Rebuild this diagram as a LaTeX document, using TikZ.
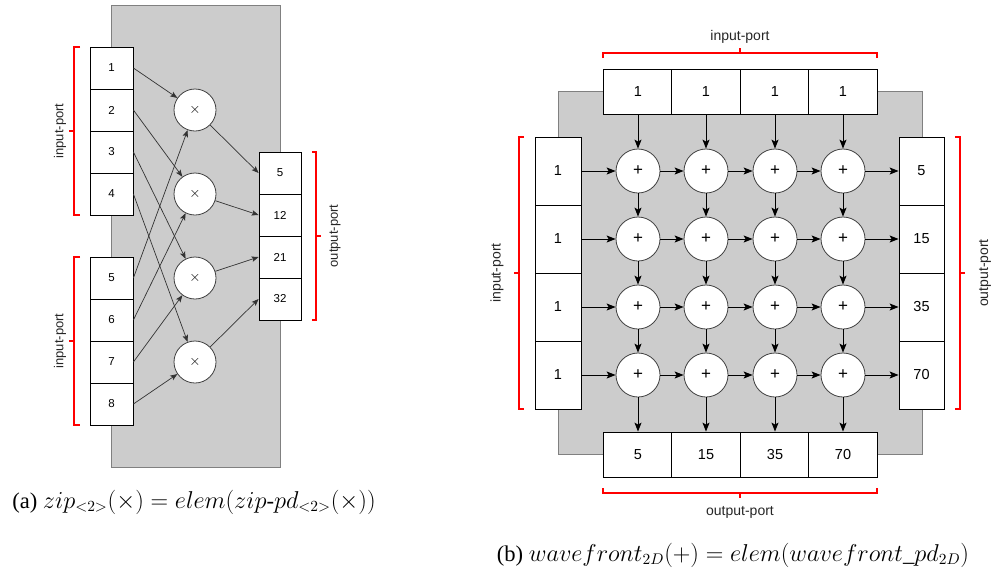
\documentclass[tikz,border=0pt]{standalone}
\usepackage{fontspec}
\setmainfont{Liberation Serif}
\newfontfamily\diafont{Liberation Sans}
\usetikzlibrary{arrows.meta}

\tikzset{
  area/.style={fill=black!20, draw=black!50, line width=0.8pt},
  cell/.style={draw, fill=white, inner sep=0pt, line width=0.8pt, font=\diafont\fontsize{11.5}{13}\selectfont},
  bigcell/.style={cell, font=\diafont\fontsize{14.5}{17}\selectfont},
  op/.style={circle, draw=black!75, fill=white, inner sep=0pt, line width=0.8pt},
  wire/.style={-{Stealth[length=7pt,width=5.5pt,inset=1.5pt]}, line width=0.7pt, black!80},
  bwire/.style={-{Stealth[length=9pt,width=7pt,inset=2pt]}, line width=1pt, black},
  port/.style={draw=red, line width=1.6pt},
  portlabel/.style={font=\diafont\fontsize{13}{15}\selectfont, text=black!85},
  caption/.style={font=\fontsize{16}{19}\selectfont},
}

\begin{document}
\begin{tikzpicture}[x=1pt, y=-1pt]
\useasboundingbox (0,0) rectangle (992,573);

% (a) zip
\draw[area] (111,5) rectangle (280,467);
\foreach \v [count=\i] in {1,2,3,4}
  \node[cell, minimum width=43pt, minimum height=42pt] (a\i) at (111.5,26+42*\i) {\v};
\foreach \v [count=\i from 5] in {5,6,7,8}
  \node[cell, minimum width=43pt, minimum height=42pt] (a\i) at (111.5,68+42*\i) {\v};
\foreach \i in {1,...,4}
  \node[op, minimum size=42pt] (m\i) at (195,26+84*\i) {\fontsize{14}{16}\selectfont$\times$};
\foreach \v [count=\i] in {5,12,21,32}
  \node[cell, minimum width=42pt, minimum height=42pt] (z\i) at (280,131+42*\i) {\v};
\foreach \i in {1,...,4} {
  \pgfmathtruncatemacro\j{\i+4}
  \draw[wire] (a\i.east) -- (m\i);
  \draw[wire] (a\j.east) -- (m\i);
  \draw[wire] (m\i) -- (z\i.west);
}
\draw[port] (80,47) -| (74,215) -- (80,215);
\draw[port] (74,131) -- (69,131);
\draw[port] (80,257) -| (74,425) -- (80,425);
\draw[port] (74,341) -- (69,341);
\draw[port] (312,152) -| (316,320) -- (312,320);
\draw[port] (316,236) -- (321,236);
\node[portlabel, rotate=90] (pa1) at (60,131) {input-port};
\node[portlabel, rotate=90] (pa2) at (60,341) {input-port};
\node[portlabel, rotate=90] (pa3) at (335,236) {output-port};
\node[caption] (capa) at (194,502)
  {\scalebox{1.41}{(a) $zip_{<2>}(\times)=elem(zip\mbox{-}pd_{<2>}(\times))$}};

% (b) wavefront
\draw[area] (558,91) rectangle (922,454);
\foreach \x [count=\i] in {638,706,775,843} {
  \node[bigcell, minimum width=68.5pt, minimum height=45pt] (t\i) at (\x,91.5) {1};
  \foreach \y [count=\j] in {171,239,307,375}
    \node[op, minimum size=44pt] (p-\j-\i) at (\x,\y) {\diafont\fontsize{17}{19}\selectfont +};
}
\foreach \y [count=\i] in {171,239,307,375}
  \node[bigcell, minimum width=46pt, minimum height=68pt] (l\i) at (558,\y) {1};
\foreach \v/\y [count=\i] in {5/171,15/239,35/307,70/375}
  \node[bigcell, minimum width=45pt, minimum height=68pt] (r\i) at (921.5,\y) {\v};
\foreach \v/\x [count=\i] in {5/638,15/706,35/775,70/843}
  \node[bigcell, minimum width=68.5pt, minimum height=45pt] (b\i) at (\x,454.5) {\v};
\foreach \i in {1,...,4} {
  \draw[bwire] (t\i) -- (p-1-\i);
  \draw[bwire] (l\i) -- (p-\i-1);
  \draw[bwire] (p-4-\i) -- (b\i);
  \draw[bwire] (p-\i-4) -- (r\i);
  \foreach \j in {1,2,3} {
    \pgfmathtruncatemacro\k{\j+1}
    \draw[bwire] (p-\i-\j) -- (p-\i-\k);
    \draw[bwire] (p-\j-\i) -- (p-\k-\i);
  }
}
\draw[port] (603,58) |- (877,53) -- (877,58);
\draw[port] (740,53) -- (740,48);
\draw[port] (603,488) |- (877,493) -- (877,488);
\draw[port] (740,493) -- (740,498);
\draw[port] (524,137) -| (519,409) -- (524,409);
\draw[port] (519,273) -- (514,273);
\draw[port] (955,137) -| (960,409) -- (955,409);
\draw[port] (960,273) -- (965,273);
\node[portlabel, font=\diafont\fontsize{14}{16}\selectfont] (pb1) at (740,37) {input-port};
\node[portlabel, font=\diafont\fontsize{14}{16}\selectfont] (pb2) at (740,512) {output-port};
\node[portlabel, font=\diafont\fontsize{14}{16}\selectfont, rotate=90] (pb3) at (497,273) {input-port};
\node[portlabel, font=\diafont\fontsize{14}{16}\selectfont, rotate=90] (pb4) at (985,273) {output-port};
\node[caption] (capb) at (733,555)
  {\scalebox{1.41}{(b) $wavefront_{2D}(+)=elem(wavefront\_pd_{2D})$}};
\end{tikzpicture}
\end{document}
